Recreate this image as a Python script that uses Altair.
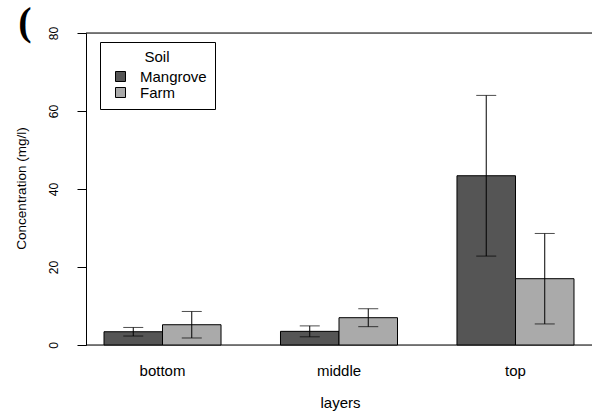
import altair as alt
import pandas as pd

# Mean concentration and error (half-width) per soil type and layer
layers = ["bottom", "middle", "top"]
soils = ["Mangrove", "Farm"]
mangrove_mean = [3.4, 3.5, 43.4]
mangrove_err = [1.1, 1.4, 20.6]
farm_mean = [5.2, 7.0, 17.0]
farm_err = [3.4, 2.3, 11.6]
y_ticks = [0, 20, 40, 60, 80]
frame_levels = [0, 80]
soil_colors = ["#555555", "#aaaaaa"]

rows = []
for soil, means, errs in [("Mangrove", mangrove_mean, mangrove_err),
                          ("Farm", farm_mean, farm_err)]:
    for layer, m, e in zip(layers, means, errs):
        rows.append({"layer": layer, "soil": soil, "mean": m,
                     "lo": m - e, "hi": m + e})
df = pd.DataFrame(rows)
frame_df = pd.DataFrame({"level": frame_levels})
tag_df = pd.DataFrame({"t": ["("]})

FONT = "Liberation Sans"

x_enc = alt.X(
    "layer:N", sort=layers,
    scale=alt.Scale(paddingInner=0.337, paddingOuter=0.102),
    axis=alt.Axis(title="layers", labelAngle=0, ticks=False, tickSize=0,
                  domain=False, labelFont=FONT, labelFontSize=15,
                  labelColor="black", labelPadding=30,
                  labelBaseline="alphabetic",
                  titleFont=FONT, titleFontSize=15, titleFontWeight="normal",
                  titleColor="black", titleX=254, titleY=62,
                  titleBaseline="alphabetic", titleAlign="center"),
)
xo_enc = alt.XOffset("soil:N", sort=soils,
                     scale=alt.Scale(domain=soils, paddingInner=0, paddingOuter=0))
y_scale = alt.Scale(domain=[0, 80], nice=False, zero=True)
y_axis = alt.Axis(
    title="Concentration (mg/l)", values=y_ticks, grid=False,
    tickSize=9, tickColor="black", domainColor="black",
    labelAngle=270, labelAlign="center", labelBaseline="middle",
    labelPadding=24, labelFont=FONT, labelFontSize=12, labelColor="black",
    labelFlush=False,
    titleFont=FONT, titleFontSize=13.5, titleFontWeight="normal",
    titleColor="black", titleAngle=270, titleX=-65, titleY=155,
    titleAlign="center", titleBaseline="middle",
)

base = alt.Chart(df)

bars = base.mark_bar(stroke="black", strokeWidth=1).encode(
    x=x_enc,
    xOffset=xo_enc,
    y=alt.Y("mean:Q", scale=y_scale, axis=y_axis),
    color=alt.Color(
        "soil:N", sort=soils,
        scale=alt.Scale(domain=soils, range=soil_colors),
        legend=alt.Legend(
            title="Soil", orient="none", legendX=14, legendY=9,
            strokeColor="black", fillColor="white", padding=8,
            titleAnchor="middle", titleFont=FONT, titleFontSize=15,
            titleFontWeight="normal", titleColor="black", titlePadding=4,
            labelFont=FONT, labelFontSize=15, labelColor="black",
            symbolOffset=5, labelOffset=12,
            symbolType="square", symbolSize=100,
            symbolStrokeColor="black", symbolStrokeWidth=1, rowPadding=0,
        ),
    ),
)

whiskers = base.mark_rule(color="black", strokeWidth=1).encode(
    x=x_enc, xOffset=xo_enc,
    y=alt.Y("lo:Q", scale=y_scale), y2="hi:Q",
)
cap_lo = base.mark_tick(color="black", size=20, thickness=1).encode(
    x=x_enc, xOffset=xo_enc, y=alt.Y("lo:Q", scale=y_scale),
)
cap_hi = base.mark_tick(color="black", size=20, thickness=1).encode(
    x=x_enc, xOffset=xo_enc, y=alt.Y("hi:Q", scale=y_scale),
)

frame = alt.Chart(frame_df).mark_rule(color="black", strokeWidth=1).encode(
    y=alt.Y("level:Q", scale=y_scale),
)

tag = alt.Chart(tag_df).mark_text(
    font="Liberation Serif", fontSize=40, fontWeight="bold",
    baseline="top", align="center", color="black",
).encode(text="t:N", x=alt.value(-61), y=alt.value(-30))

chart = alt.layer(frame, bars, whiskers, cap_lo, cap_hi, tag).properties(
    width=506, height=312,
    autosize=alt.AutoSizeParams(type="none"),
    padding={"left": 86, "top": 33, "right": 0, "bottom": 67},
).configure_view(stroke=None).configure(background="white")

chart.save("out.html", embed_options={"renderer": "svg", "actions": False})
